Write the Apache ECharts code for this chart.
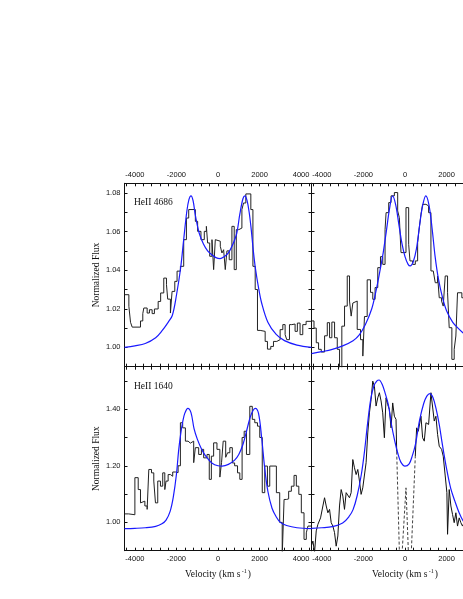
<!DOCTYPE html>
<html>
<head>
<meta charset="utf-8">
<script src="https://cdn.jsdelivr.net/npm/echarts@6/dist/echarts.min.js"></script>
<style>
  html, body { margin: 0; padding: 0; background: #fff; }
  #lineProfiles { width: 463px; height: 599px; }
</style>
</head>
<body>
<div id="lineProfiles"></div>
<script>
  // axis ticks / labels
  const velTicks = [-4400, -4000, -3600, -3200, -2800, -2400, -2000, -1600, -1200, -800, -400, 0,
    400, 800, 1200, 1600, 2000, 2400, 2800, 3200, 3600, 4000, 4400]
  const velLabels = [-4000, -2000, 0, 2000, 4000]
  const fluxTicksTop = [0.99, 1.00, 1.01, 1.02, 1.03, 1.04, 1.05, 1.06, 1.07, 1.08]
  const fluxLabelsTop = [1.00, 1.02, 1.04, 1.06, 1.08]
  const fluxTicksBot = [0.9, 1.0, 1.1, 1.2, 1.3, 1.4, 1.5]
  const fluxLabelsBot = [1.00, 1.20, 1.40]

  // HeII 4686, observed (histogram: bin start velocity, flux)
  const he4686aVel = [-4500, -4290, -4210, -4130, -3730, -3620, -3570, -3410, -3300, -3170, -3060, -2880,
    -2760, -2610, -2480, -2420, -2290, -2210, -2080, -1970, -1810, -1650, -1520, -1410, -1090, -980,
    -820, -660, -560, -500, -400, -290, -210, -130, -50, 110, 190, 270, 350, 430, 540, 670, 780, 880,
    1000, 1150, 1230, 1340, 1580, 1680, 1790, 1900, 2030, 2270, 2380, 2540, 2670, 2830, 2990, 3120,
    3230, 3310, 3440, 3550, 3710, 3820, 3950, 4080, 4240, 4430]
  const he4686aFlux = [1.0273, 1.0213, 1.0130, 1.0105, 1.0137, 1.0175, 1.0204, 1.0178, 1.0195, 1.0175,
    1.0199, 1.0238, 1.0282, 1.0359, 1.0325, 1.0250, 1.0178, 1.0290, 1.0342, 1.0395, 1.0420, 1.0558,
    1.0670, 1.0714, 1.0653, 1.0601, 1.0558, 1.0601, 1.0627, 1.0541, 1.0472, 1.0558, 1.0403, 1.0558,
    1.0550, 1.0524, 1.0489, 1.0506, 1.0403, 1.0500, 1.0454, 1.0627, 1.0403, 1.0610, 1.0618, 1.0714,
    1.0748, 1.0795, 1.0714, 1.0420, 1.0300, 1.0088, 1.0083, 1.0031, 0.9991, 1.0005, 1.0031, 1.0040,
    1.0092, 1.0118, 1.0066, 1.0040, 1.0118, 1.0121, 1.0083, 1.0126, 1.0066, 1.0118, 1.0135, 1.0135]
  // HeII 4686, model
  const he4686aFitVel = [-4500, -4000, -3500, -3000, -2700, -2400, -2200, -2000, -1800, -1650, -1500,
    -1400, -1300, -1200, -1100, -1000, -900, -700, -500, -300, -100, 100, 300, 500, 700, 900, 1050,
    1200, 1300, 1400, 1500, 1600, 1700, 1800, 1950, 2100, 2400, 2800, 3200, 3800, 4500]
  const he4686aFitFlux = [1.0000, 1.0008, 1.0020, 1.0050, 1.0085, 1.0130, 1.0165, 1.0270, 1.0410,
    1.0560, 1.0705, 1.0765, 1.0785, 1.0760, 1.0690, 1.0635, 1.0590, 1.0535, 1.0500, 1.0480, 1.0465,
    1.0460, 1.0470, 1.0490, 1.0530, 1.0590, 1.0690, 1.0770, 1.0785, 1.0760, 1.0700, 1.0610, 1.0500,
    1.0410, 1.0310, 1.0230, 1.0130, 1.0067, 1.0035, 1.0012, 1.0000]

  // second epoch, HeII 4686
  const he4686bVel = [-4500, -4380, -4270, -4160, -4030, -3870, -3740, -3630, -3520, -3390, -3260,
    -3150, -3040, -2910, -2780, -2670, -2590, -2510, -2430, -2300, -2140, -2030, -1950, -1820, -1660,
    -1550, -1440, -1310, -1180, -1070, -960, -910, -784, -672, -512, -352, -272, -192, 48, 176, 240,
    368, 496, 608, 688, 768, 848, 1008, 1136, 1248, 1360, 1456, 1568, 1648, 1760, 1840, 1936, 2048,
    2128, 2256, 2368, 2448, 2528, 2736]
  const he4686bFlux = [1.0137, 1.0100, 1.0024, 0.9990, 0.9976, 1.0060, 1.0128, 1.0050, 1.0131, 1.0050,
    0.9990, 0.9880, 1.0110, 1.0214, 1.0370, 1.0240, 1.0162, 1.0230, 1.0240, 1.0093, 1.0040, 0.9955,
    1.0160, 1.0350, 1.0285, 1.0249, 1.0310, 1.0413, 1.0470, 1.0430, 1.0610, 1.0698, 1.0750, 1.0785,
    1.0802, 1.0707, 1.0672, 1.0491, 1.0724, 1.0534, 1.0448, 1.0430, 1.0448, 1.0543, 1.0620, 1.0690,
    1.0741, 1.0733, 1.0698, 1.0396, 1.0404, 1.0335, 1.0370, 1.0257, 1.0240, 1.0214, 1.0370, 1.0283,
    1.0102, 0.9938, 0.9990, 1.0059, 1.0283, 1.0257]
  const he4686bFitVel = [-4500, -4000, -3500, -3000, -2500, -2200, -1900, -1600, -1400, -1200, -1050,
    -900, -750, -600, -450, -300, -150, 0, 150, 250, 400, 550, 700, 850, 1000, 1150, 1300, 1450, 1600,
    1800, 2000, 2300, 2600, 2800, 3000]
  const he4686bFitFlux = [0.9968, 0.9978, 0.9990, 1.0008, 1.0035, 1.0065, 1.0120, 1.0200, 1.0290,
    1.0400, 1.0490, 1.0600, 1.0715, 1.0785, 1.0740, 1.0640, 1.0540, 1.0470, 1.0430, 1.0422, 1.0445,
    1.0510, 1.0630, 1.0735, 1.0785, 1.0740, 1.0620, 1.0470, 1.0360, 1.0260, 1.0190, 1.0130, 1.0095,
    1.0075, 1.0060]

  // HeII 1640, observed
  const he1640aVel = [-4500, -4300, -4000, -3840, -3730, -3650, -3520, -3410, -3330, -3200, -3090,
    -3010, -2900, -2770, -2660, -2560, -2500, -2400, -2290, -2180, -2050, -1920, -1810, -1700, -1570,
    -1440, -1330, -1170, -1090, -930, -800, -690, -530, -420, -320, -210, -50, 90, 170, 250, 370, 460,
    570, 690, 800, 940, 1050, 1160, 1260, 1370, 1530, 1650, 1770, 1900, 2010, 2130, 2250, 2380, 2490,
    2650, 2810, 2970, 3090, 3180, 3290, 3400, 3530, 3660, 3770, 3890, 4010, 4140, 4250, 4330]
  const he1640aFlux = [1.030, 1.027, 1.158, 1.116, 1.069, 1.075, 1.058, 1.046, 1.187, 1.175, 1.146,
    1.069, 1.146, 1.128, 1.175, 1.116, 1.146, 1.169, 1.163, 1.178, 1.176, 1.200, 1.352, 1.334, 1.287,
    1.280, 1.287, 1.211, 1.264, 1.240, 1.258, 1.228, 1.240, 1.152, 1.234, 1.281, 1.258, 1.160, 1.211,
    1.287, 1.230, 1.246, 1.264, 1.210, 1.200, 1.175, 1.152, 1.300, 1.322, 1.240, 1.410, 1.364, 1.352,
    1.340, 1.300, 1.105, 1.199, 1.128, 1.199, 1.199, 1.105, 1.000, 0.880, 1.081, 1.083, 1.110, 1.128,
    1.166, 1.128, 1.099, 1.034, 0.940, 0.963, 0.987]
  const he1640aFitVel = [-4500, -4000, -3500, -3000, -2700, -2500, -2300, -2150, -2000, -1900, -1800,
    -1700, -1600, -1450, -1300, -1150, -1000, -800, -600, -300, 0, 200, 500, 800, 1000, 1200, 1400,
    1550, 1700, 1800, 1950, 2100, 2250, 2400, 2600, 2800, 3000, 3300, 3800, 4500]
  const he1640aFitFlux = [0.978, 0.979, 0.981, 0.986, 0.995, 1.008, 1.040, 1.090, 1.170, 1.250, 1.310,
    1.355, 1.385, 1.403, 1.388, 1.330, 1.295, 1.260, 1.235, 1.210, 1.200, 1.199, 1.205, 1.220, 1.240,
    1.275, 1.330, 1.372, 1.397, 1.403, 1.385, 1.300, 1.190, 1.110, 1.050, 1.020, 1.000, 0.989, 0.981,
    0.978]

  // second epoch, HeII 1640 (high resolution spectrum, blue and red parts)
  const he1640bBlueVel = [-4512, -4432, -4352, -4272, -4192, -4064, -3952, -3872, -3792, -3712, -3632,
    -3552, -3472, -3392, -3312, -3232, -3152, -3072, -2992, -2912, -2832, -2752, -2672, -2592, -2512,
    -2432, -2352, -2272, -2192, -2112, -2032, -1952, -1872, -1792, -1712, -1632, -1552, -1472, -1392,
    -1312, -1232, -1152, -1072, -992, -912, -832, -752, -672, -592, -512, -432, -400]
  const he1640bBlueFlux = [0.916, 0.934, 0.895, 0.970, 0.993, 1.016, 1.058, 1.087, 1.058, 1.034, 1.046,
    0.999, 0.987, 0.964, 0.916, 0.952, 1.058, 1.116, 1.093, 1.046, 1.105, 1.111, 1.087, 1.105, 1.222,
    1.193, 1.169, 1.187, 1.146, 1.099, 1.122, 1.116, 1.211, 1.316, 1.387, 1.434, 1.499, 1.481, 1.411,
    1.440, 1.458, 1.429, 1.387, 1.299, 1.440, 1.416, 1.399, 1.334, 1.422, 1.375, 1.364, 1.250]
  const he1640bRedVel = [496, 560, 640, 768, 848, 928, 1008, 1136, 1248, 1328, 1408, 1488, 1568, 1648,
    1760, 1840, 1936, 2016, 2048, 2128, 2208, 2288, 2368, 2448, 2528, 2608, 2688, 2768, 2850]
  const he1640bRedFlux = [1.234, 1.334, 1.322, 1.375, 1.299, 1.287, 1.352, 1.346, 1.458, 1.464, 1.358,
    1.375, 1.311, 1.269, 1.258, 1.234, 1.164, 1.105, 0.958, 1.116, 1.058, 1.028, 0.999, 1.034, 0.987,
    1.016, 0.999, 0.987, 1.000]
  // masked absorption (dashed)
  const he1640bMaskVel = [-400, -265, -150, 48, 170, 295, 496]
  const he1640bMaskFlux = [1.250, 0.880, 0.880, 1.122, 0.880, 0.880, 1.234]
  const he1640bFitVel = [-4500, -4000, -3500, -3000, -2700, -2500, -2300, -2100, -1950, -1800, -1650,
    -1500, -1350, -1250, -1100, -950, -800, -650, -500, -350, -200, 0, 200, 350, 500, 700, 900, 1050,
    1200, 1350, 1500, 1650, 1800, 2000, 2200, 2400, 2600, 2800, 3000]
  const he1640bFitFlux = [0.979, 0.981, 0.985, 0.998, 1.020, 1.045, 1.095, 1.170, 1.250, 1.350, 1.435,
    1.482, 1.500, 1.503, 1.488, 1.455, 1.415, 1.345, 1.290, 1.245, 1.213, 1.199, 1.207, 1.235, 1.275,
    1.360, 1.420, 1.446, 1.455, 1.440, 1.400, 1.345, 1.275, 1.190, 1.120, 1.075, 1.035, 1.005, 0.990]

  const histEnd = 4500

  function pairs(xs, ys) {
    return xs.map((x, i) => [x, ys[i]])
  }
  function stepPairs(xs, ys, end) {
    const d = pairs(xs, ys)
    d.push([end, ys[ys.length - 1]])
    return d
  }

  const tickFont = { fontFamily: 'Liberation Sans, Arial, sans-serif', fontSize: 7.5, color: '#111' }
  const nameFont = { fontFamily: 'Liberation Serif, Times New Roman, serif', fontSize: 9.5, color: '#111' }
  const lineBlack = { color: '#111', width: 1 }

  // panels: the right column runs past the page edge, as in the original figure
  const grids = [
    { left: 124.5, top: 183.3, width: 187, height: 183.4, outerBoundsMode: 'none' },
    { left: 311.5, top: 183.3, width: 187, height: 183.4, outerBoundsMode: 'none' },
    { left: 124.5, top: 366.7, width: 187, height: 184, outerBoundsMode: 'none' },
    { left: 311.5, top: 366.7, width: 187, height: 184, outerBoundsMode: 'none' }
  ]

  const xAxes = []
  const yAxes = []
  grids.forEach((g, i) => {
    const topRow = i < 2
    const leftCol = i % 2 === 0
    ;['bottom', 'top'].forEach(pos => {
      const labelled = (topRow && pos === 'top') || (!topRow && pos === 'bottom')
      xAxes.push({
        gridIndex: i, type: 'value', position: pos, min: -4500, max: 4500,
        axisLine: { show: true, onZero: false, lineStyle: lineBlack },
        axisTick: { show: true, inside: true, length: 3, customValues: velTicks, lineStyle: lineBlack },
        axisLabel: { show: labelled, customValues: velLabels, margin: 4, formatter: v => String(v), ...tickFont },
        splitLine: { show: false },
        name: (!topRow && pos === 'bottom') ? 'Velocity (km s{sup| -1})' : '',
        nameLocation: 'middle', nameGap: 18,
        nameTextStyle: { ...nameFont, rich: { sup: { ...nameFont, fontSize: 6, verticalAlign: 'top', padding: [0, 1, 5, 0] } } }
      })
    })
    ;['left', 'right'].forEach(pos => {
      const labelled = leftCol && pos === 'left'
      yAxes.push({
        gridIndex: i, type: 'value', position: pos,
        min: topRow ? 0.99 : 0.9, max: topRow ? 1.085 : 1.55,
        axisLine: { show: true, onZero: false, lineStyle: lineBlack },
        axisTick: { show: true, inside: true, length: 3, customValues: topRow ? fluxTicksTop : fluxTicksBot, lineStyle: lineBlack },
        axisLabel: {
          show: labelled, customValues: topRow ? fluxLabelsTop : fluxLabelsBot, margin: 4,
          formatter: v => v.toFixed(2), ...tickFont
        },
        splitLine: { show: false },
        name: labelled ? 'Normalized Flux' : '',
        nameLocation: 'middle', nameGap: 23, nameTextStyle: nameFont
      })
    })
  })

  function hist(i, xs, ys, end) {
    return {
      type: 'line', xAxisIndex: 2 * i, yAxisIndex: 2 * i, step: 'end', symbol: 'none',
      lineStyle: { color: '#222', width: 1 }, data: stepPairs(xs, ys, end), z: 2
    }
  }
  function spec(i, xs, ys, dashed) {
    return {
      type: 'line', xAxisIndex: 2 * i, yAxisIndex: 2 * i, symbol: 'none',
      lineStyle: { color: '#111', width: dashed ? 0.8 : 1, type: dashed ? [3, 2] : 'solid' },
      data: pairs(xs, ys), z: 2
    }
  }
  function fit(i, xs, ys) {
    return {
      type: 'line', xAxisIndex: 2 * i, yAxisIndex: 2 * i, symbol: 'none', smooth: 0.35,
      lineStyle: { color: '#1a1aff', width: 1.2 }, data: pairs(xs, ys), z: 3
    }
  }

  const option = {
    animation: false,
    backgroundColor: '#fff',
    title: [
      { text: 'HeII 4686', left: 134, top: 197.5, padding: 0,
        textStyle: { ...nameFont, fontWeight: 'normal' } },
      { text: 'HeII 1640', left: 134, top: 381, padding: 0,
        textStyle: { ...nameFont, fontWeight: 'normal' } }
    ],
    grid: grids,
    xAxis: xAxes,
    yAxis: yAxes,
    series: [
      hist(0, he4686aVel, he4686aFlux, histEnd),
      fit(0, he4686aFitVel, he4686aFitFlux),
      hist(1, he4686bVel, he4686bFlux, 2900),
      fit(1, he4686bFitVel, he4686bFitFlux),
      hist(2, he1640aVel, he1640aFlux, histEnd),
      fit(2, he1640aFitVel, he1640aFitFlux),
      spec(3, he1640bBlueVel, he1640bBlueFlux, false),
      spec(3, he1640bRedVel, he1640bRedFlux, false),
      spec(3, he1640bMaskVel, he1640bMaskFlux, true),
      fit(3, he1640bFitVel, he1640bFitFlux)
    ]
  }

  const lineProfiles = echarts.init(document.getElementById('lineProfiles'), null, { renderer: 'canvas' })
  lineProfiles.setOption(option)
</script>
</body>
</html>
